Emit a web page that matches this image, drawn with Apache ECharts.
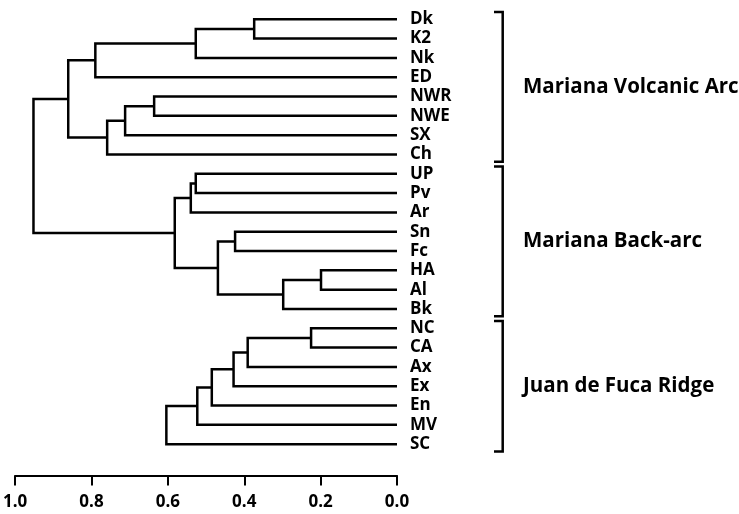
<!DOCTYPE html>
<html>
<head>
<meta charset="utf-8">
<script src="https://cdn.jsdelivr.net/npm/echarts@6/dist/echarts.min.js"></script>
<style>
html,body{margin:0;padding:0;background:#fff;}
#chart{width:739px;height:514px;}
</style>
</head>
<body>
<div id="chart"></div>
<script>
// ---- data ----
const leaves = ['Dk','K2','Nk','ED','NWR','NWE','SX','Ch','UP','Pv','Ar','Sn','Fc','HA','Al','Bk','NC','CA','Ax','Ex','En','MV','SC'];
// merges (m0, m1, ...) : left child, right child, linkage height
const mergeLeft   = ['Dk','m0','m1','NWR','m3','m4','m2','UP','m7','Sn','HA','m10','m9','m8','m6','NC','m15','m16','m17','m18','m19'];
const mergeRight  = ['K2','Nk','ED','NWE','SX','Ch','m5','Pv','Ar','Fc','Al','Bk','m11','m12','m13','CA','Ax','Ex','En','MV','SC'];
const mergeHeight = [0.374,0.527,0.790,0.636,0.712,0.759,0.861,0.527,0.540,0.424,0.199,0.298,0.469,0.582,0.952,0.225,0.391,0.428,0.485,0.523,0.604];
const xTickLabels = ['0.0','0.2','0.4','0.6','0.8','1.0'];
const groupNames = ['Mariana Volcanic Arc','Mariana Back-arc','Juan de Fuca Ridge'];
const groupFirst = ['Dk','UP','NC'];
const groupLast  = ['Ch','Bk','SC'];

// ---- build dendrogram segments ----
const nodePos = {};
leaves.forEach((n, i) => { nodePos[n] = [0, i]; });
const segs = [];
mergeLeft.forEach((l, i) => {
  const a = nodePos[l], b = nodePos[mergeRight[i]], h = mergeHeight[i];
  segs.push({coords: [[a[0], a[1]], [h, a[1]], [h, b[1]], [b[0], b[1]]]});
  nodePos['m' + i] = [h, (a[1] + b[1]) / 2];
});

const FONT = '"Open Sans"';
const chart = echarts.init(document.getElementById('chart'));
chart.setOption({
  animation: false,
  backgroundColor: '#fff',
  grid: {left: 12.7, right: 342, top: -10.55, bottom: 50.55, containLabel: false},
  xAxis: {
    type: 'value', inverse: true, min: 0, max: 1, interval: 0.2,
    position: 'bottom', offset: 12,
    axisLine: {show: true, onZero: false, lineStyle: {color: '#000', width: 2}},
    axisTick: {show: true, length: 10, lineStyle: {color: '#000', width: 2}},
    splitLine: {show: false},
    axisLabel: {
      color: '#000', fontFamily: FONT, fontWeight: 'bold', fontSize: 17, margin: 18,
      formatter: v => xTickLabels[Math.round(v * 5)]
    }
  },
  yAxis: {
    type: 'value', inverse: true, min: -1, max: 23, interval: 1,
    position: 'right',
    axisLine: {show: false, onZero: false}, axisTick: {show: false}, splitLine: {show: false},
    axisLabel: {
      color: '#000', fontFamily: FONT, fontWeight: 'bold', fontSize: 17, margin: 13,
      align: 'left',
      formatter: v => (leaves[v] !== undefined ? leaves[v] : '')
    }
  },
  series: [{
    type: 'lines', coordinateSystem: 'cartesian2d', polyline: true,
    silent: true,
    lineStyle: {color: '#000', width: 2.5, opacity: 1},
    data: segs
  }]
});

// ---- group brackets and labels ----
const graphics = [];
const xRight = chart.convertToPixel({gridIndex: 0}, [0, 0])[0];
groupNames.forEach((g, i) => {
  const yTop = chart.convertToPixel({gridIndex: 0}, [0, leaves.indexOf(groupFirst[i]) - 0.38])[1];
  const yBot = chart.convertToPixel({gridIndex: 0}, [0, leaves.indexOf(groupLast[i]) + 0.38])[1];
  const xBar = xRight + 105.7, xStub = xRight + 97;
  graphics.push({
    type: 'polyline', silent: true,
    shape: {points: [[xStub, yTop], [xBar, yTop], [xBar, yBot], [xStub, yBot]]},
    style: {stroke: '#000', lineWidth: 2.5, fill: null}
  });
  graphics.push({
    type: 'text', silent: true,
    x: xRight + 126, y: (yTop + yBot) / 2,
    style: {text: g, fill: '#000', font: 'bold 20.5px ' + FONT, verticalAlign: 'middle', align: 'left'}
  });
});
chart.setOption({graphic: graphics});
</script>
</body>
</html>
